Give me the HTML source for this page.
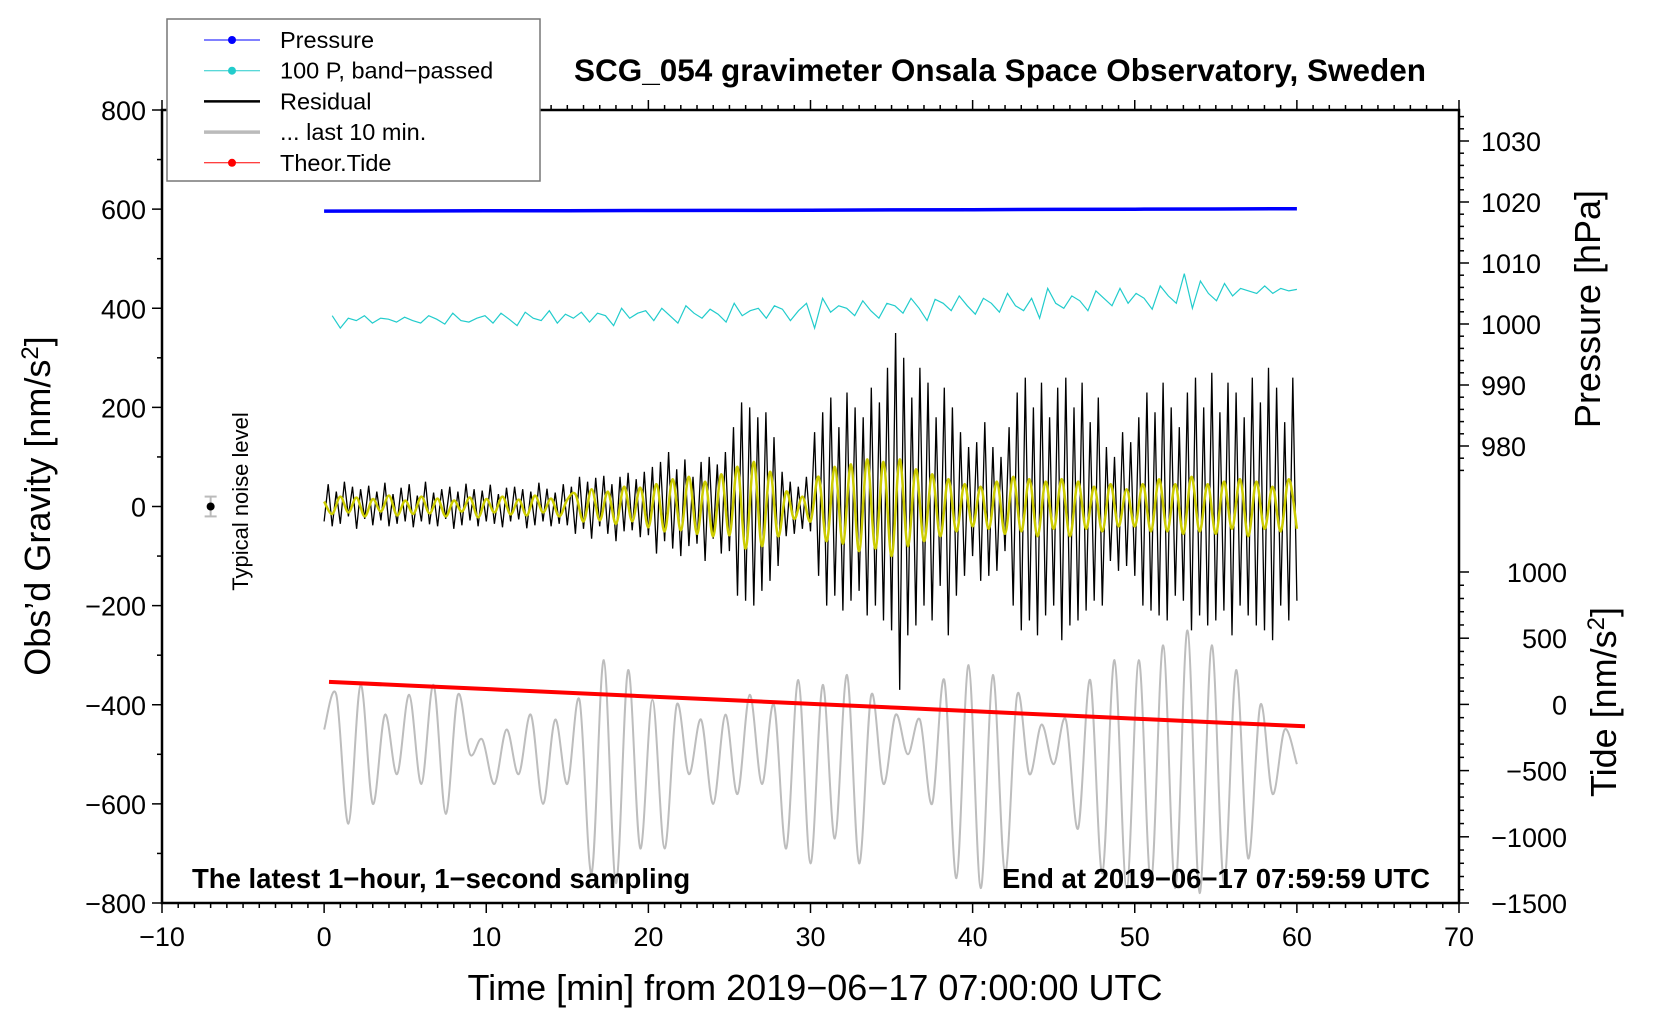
<!DOCTYPE html>
<html><head><meta charset="utf-8"><style>
html,body{margin:0;padding:0;background:#fff;}
svg{display:block;font-family:"Liberation Sans",sans-serif;}
</style></head><body>
<svg id="c" width="1660" height="1020" viewBox="0 0 1660 1020"></svg>
<script>
const residual=[-30,45,-40,30,-35,50,-20,40,-45,35,-25,42,-38,30,-28,48,-40,25,-35,38,-30,45,-42,22,-30,50,-36,28,-40,35,-25,40,-45,30,-38,46,-28,35,-40,32,-30,44,-35,25,-42,38,-30,40,-26,35,-44,30,-38,48,-30,36,-40,28,-35,45,-38,
40,-55,60,-45,50,-65,58,-40,62,-55,45,-70,60,-50,68,-48,55,-62,70,-58,
80,-95,90,-70,110,-85,75,-100,95,-80,60,-75,90,-110,100,-65,85,-95,110,-90,
160,-180,210,-190,200,-200,180,-170,190,-150,140,-120,
70,-60,50,-55,40,-45,60,-50,
150,-140,190,-200,220,-180,160,-210,230,-190,200,-170,180,-220,240,-200,210,-230,280,-250,
350,-370,300,-260,220,-240,280,-200,250,-230,180,-160,240,-260,200,-180,150,-140,120,-100,
130,-150,170,-140,120,-130,100,-90,
160,-200,230,-250,260,-230,200,-260,250,-220,180,-200,240,-270,260,-240,200,-230,250,-210,170,-190,220,-200,
120,-110,100,-130,150,-120,130,-140,
180,-200,230,-210,190,-220,250,-230,200,-180,160,-190,230,-250,260,-220,200,-240,270,-230,190,-210,250,-260,230,-200,180,-220,260,-240,210,-250,280,-270,240,-200,170,-230,260,-190];
const smoothed=[10,-15,20,-12,18,-20,15,-10,22,-18,12,-15,20,-14,16,-20,12,-10,18,-22,15,-12,20,-16,14,-18,22,-12,16,-20,14,
25,-30,35,-28,30,-35,40,-30,38,-42,
45,-50,55,-48,60,-55,50,-60,65,-58,
80,-85,90,-80,70,-60,
30,-25,20,-30,
60,-70,80,-75,85,-90,95,-85,90,-100,95,-80,75,-70,65,-60,55,-50,45,-40,
40,-45,50,-55,60,-50,55,-60,50,-45,55,-60,50,-45,40,-50,45,-40,35,-40,
45,-50,55,-50,45,-55,60,-50,45,-55,50,-45,55,-60,50,-45,40,-50,55,-45];
const last10=[-450,-380,-640,-360,-600,-420,-540,-380,-560,-360,-620,-380,-500,-470,-560,-450,-540,-420,-600,-430,-560,-390,-740,-310,-760,-330,-690,-390,-690,-400,-540,-430,-600,-420,-580,-380,-560,-400,-690,-350,-720,-360,-670,-340,-720,-380,-560,-420,-500,-430,-600,-350,-750,-320,-770,-340,-740,-380,-540,-440,-520,-430,-650,-350,-740,-310,-770,-310,-760,-280,-770,-250,-780,-280,-760,-330,-710,-400,-580,-450,-520];
const bandP=[385,360,380,375,385,370,380,378,372,382,375,370,385,378,368,390,375,372,380,385,370,390,378,365,392,380,375,395,370,388,380,392,372,390,385,365,400,380,390,395,375,400,385,370,405,390,380,398,388,372,410,385,395,400,380,405,398,375,395,410,360,420,392,405,400,385,415,395,380,410,405,390,420,400,375,418,410,395,425,405,388,420,410,392,430,405,395,420,380,440,410,400,425,415,395,435,420,405,440,410,430,420,398,445,425,410,470,400,455,430,415,450,425,440,435,430,445,430,440,435,438];
const pressure=[1018.5,1018.52,1018.55,1018.56,1018.6,1018.62,1018.66,1018.7,1018.74,1018.78,1018.82,1018.86,1018.9];
const tide=[170,142,114,86,58,30,2,-26,-54,-82,-110,-138,-165];
const xTicks=[-10,0,10,20,30,40,50,60,70];
const yTicks=[800,600,400,200,0,-200,-400,-600,-800];
const pTicks=[980,990,1000,1010,1020,1030];
const tTicks=[1000,500,0,-500,-1000,-1500];

const svg=document.getElementById('c');
const NS='http://www.w3.org/2000/svg';
const L=162,R=1459,T=110,B=903;
const X=t=>L+(t+10)*(R-L)/80;
const Y=v=>T+(800-v)*(B-T)/1600;
const YP=p=>141+(1030-p)*6.1;
const YT=t=>572+(1000-t)*0.1324;
function el(tag,attrs,parent){const e=document.createElementNS(NS,tag);for(const k in attrs)e.setAttribute(k,attrs[k]);(parent||svg).appendChild(e);return e;}
function txt(s,attrs,parent){const e=el('text',attrs,parent);e.textContent=s;return e;}
function pts(arr,t0,t1,fy){const n=arr.length;return arr.map((v,i)=>X(t0+(t1-t0)*i/(n-1)).toFixed(1)+','+fy(v).toFixed(1)).join(' ');}
function smoothPath(arr,t0,t1,fy){const n=arr.length;const P=arr.map((v,i)=>[X(t0+(t1-t0)*i/(n-1)),fy(v)]);let d='M'+P[0][0]+','+P[0][1];for(let i=0;i<n-1;i++){const p0=P[Math.max(0,i-1)],p1=P[i],p2=P[i+1],p3=P[Math.min(n-1,i+2)];const c1=[p1[0]+(p2[0]-p0[0])/6,p1[1]+(p2[1]-p0[1])/6],c2=[p2[0]-(p3[0]-p1[0])/6,p2[1]-(p3[1]-p1[1])/6];d+=' C'+c1[0].toFixed(1)+','+c1[1].toFixed(1)+' '+c2[0].toFixed(1)+','+c2[1].toFixed(1)+' '+p2[0].toFixed(1)+','+p2[1].toFixed(1);}return d;}

let s;
s=el('path',{d:smoothPath(last10,0,60,Y),fill:'none',stroke:'#bdbdbd','stroke-width':2});


s=el('polyline',{points:pts(tide,0.3,60.5,YT),fill:'none',stroke:'#ff0000','stroke-width':4});


s=el('polyline',{points:pts(residual,0,60,Y),fill:'none',stroke:'#000','stroke-width':1.3});


s=el('path',{d:smoothPath(smoothed,0,60,Y),fill:'none',stroke:'#cccc00','stroke-width':2.5});


s=el('polyline',{points:pts(bandP,0.5,60,Y),fill:'none',stroke:'#22cccc','stroke-width':1.2});


s=el('polyline',{points:pts(pressure,0,60,YP),fill:'none',stroke:'#0000ff','stroke-width':3.5});



const nb=el('g',{});


el('line',{x1:X(-7),x2:X(-7),y1:Y(20),y2:Y(-20),stroke:'#bbb','stroke-width':2},nb);
el('line',{x1:X(-7)-6,x2:X(-7)+6,y1:Y(20),y2:Y(20),stroke:'#bbb','stroke-width':2},nb);
el('line',{x1:X(-7)-6,x2:X(-7)+6,y1:Y(-20),y2:Y(-20),stroke:'#bbb','stroke-width':2},nb);
el('circle',{cx:X(-7),cy:Y(0),r:4,fill:'#000'},nb);
s=txt('Typical noise level',{x:0,y:0,'font-size':22,'text-anchor':'middle',transform:`translate(${X(-5)+5},${Y(0)-5}) rotate(-90)`});



s=el('rect',{x:L,y:T,width:R-L,height:B-T,fill:'none',stroke:'#000','stroke-width':2.5});


const ax=el('g',{stroke:'#000','stroke-width':1.5});


for(let t=-10;t<=70;t++){const m=t%10===0;el('line',{x1:X(t),x2:X(t),y1:B,y2:B+(m?10:5)},ax);el('line',{x1:X(t),x2:X(t),y1:T,y2:T-(m?10:5)},ax);}
for(let v=-800;v<=800;v+=100){const m=v%200===0;el('line',{x1:L,x2:L-(m?10:5),y1:Y(v),y2:Y(v)},ax);}
for(let p=976;p<=1034;p+=2){const m=p%10===0;el('line',{x1:R,x2:R+(m?10:5),y1:YP(p),y2:YP(p)},ax);}
for(let t=-1500;t<=1000;t+=100){const m=t%500===0;el('line',{x1:R,x2:R+(m?10:5),y1:YT(t),y2:YT(t)},ax);}
xTicks.forEach(t=>{s=txt(String(t).replace('-','\u2212'),{x:X(t),y:946,'font-size':27,'text-anchor':'middle'});});
yTicks.forEach(v=>{s=txt(String(v).replace('-','\u2212'),{x:L-16,y:Y(v)+10,'font-size':27,'text-anchor':'end'});});
pTicks.forEach(p=>{s=txt(String(p),{x:R+22,y:YP(p)+10,'font-size':27});});
tTicks.forEach(t=>{s=txt(String(t).replace('-','\u2212'),{x:1567,y:YT(t)+10,'font-size':27,'text-anchor':'end'});});

s=txt('Time [min] from 2019\u221206\u221217 07:00:00 UTC',{x:815,y:1000,'font-size':36,'text-anchor':'middle'});

s=el('text',{x:0,y:0,'font-size':36,'text-anchor':'middle',transform:'translate(50,506) rotate(-90)'});
s.innerHTML='Obs\u2019d Gravity [nm/s<tspan dy="-12" font-size="24">2</tspan><tspan dy="12">]</tspan>';

s=txt('Pressure [hPa]',{x:0,y:0,'font-size':36,'text-anchor':'middle',transform:'translate(1600,309) rotate(-90)'});

s=el('text',{x:0,y:0,'font-size':36,'text-anchor':'middle',transform:'translate(1616,702) rotate(-90)'});
s.innerHTML='Tide [nm/s<tspan dy="-12" font-size="24">2</tspan><tspan dy="12">]</tspan>';

s=txt('SCG_054 gravimeter Onsala Space Observatory, Sweden',{x:1000,y:81,'font-size':31.5,'font-weight':'bold','text-anchor':'middle'});

s=txt('The latest 1\u2212hour, 1\u2212second sampling',{x:192,y:888,'font-size':27.5,'font-weight':'bold'});

s=txt('End at 2019\u221206\u221217 07:59:59 UTC',{x:1430,y:888,'font-size':27.5,'font-weight':'bold','text-anchor':'end'});


const lg=el('g',{});


el('rect',{x:167,y:19,width:373,height:162,fill:'#fff',stroke:'#777','stroke-width':1.5},lg);
const leg=[['Pressure','#0000ff',1,true],['100 P, band\u2212passed','#22cccc',1,true],['Residual','#000',2.5,false],['... last 10 min.','#bbb',3.5,false],['Theor.Tide','#ff0000',1,true]];
leg.forEach((e,i)=>{const y=40+i*30.7;const g=el('g',{},lg);


el('line',{x1:204,x2:260,y1:y,y2:y,stroke:e[1],'stroke-width':e[2]},g);
if(e[3])el('circle',{cx:232,cy:y,r:4,fill:e[1]},g);
txt(e[0],{x:280,y:y+8,'font-size':23.5},g);});
</script>
</body></html>
